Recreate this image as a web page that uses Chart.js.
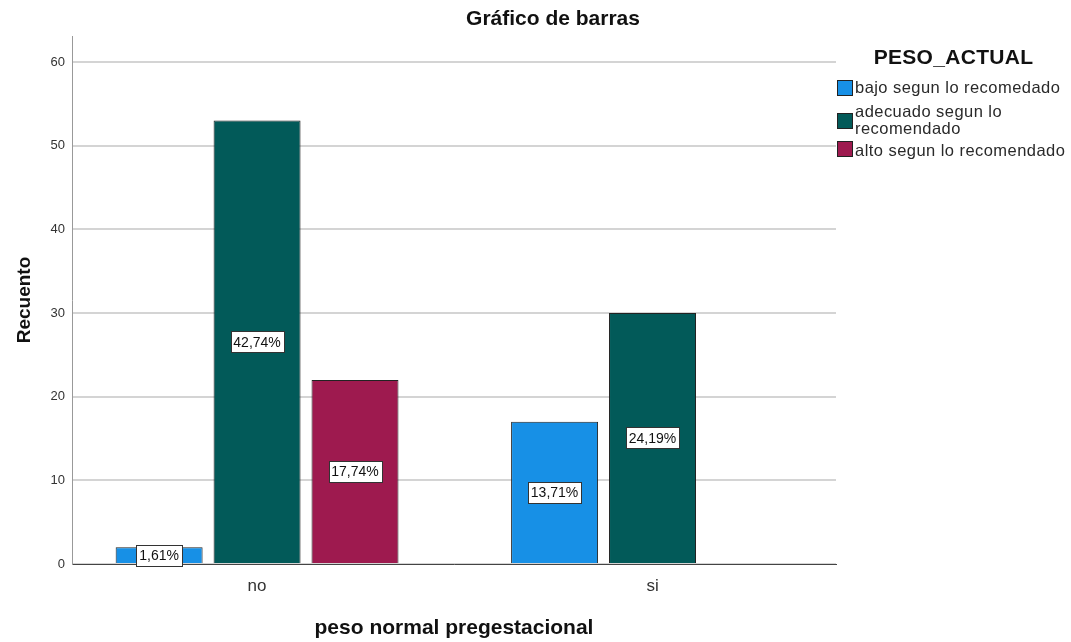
<!DOCTYPE html>
<html>
<head>
<meta charset="utf-8">
<script src="https://cdn.jsdelivr.net/npm/chart.js@4/dist/chart.umd.min.js"></script>
<style>
  html, body { margin: 0; padding: 0; background: #fff; }
  #wrap { position: relative; width: 1071px; height: 642px; font-family: "Liberation Sans", Arial, sans-serif; }
  #legend { position: absolute; left: 0; top: 0; width: 1071px; height: 642px; color: #222; pointer-events: none; }
  #legend .ttl { position: absolute; left: 836px; width: 235px; top: 44px; font-weight: bold; font-size: 21px; line-height: 26px; text-align: center; letter-spacing: 0.3px; color: #111; }
  #legend .txt { position: absolute; left: 855px; font-size: 16.5px; line-height: 17px; letter-spacing: 0.45px; white-space: nowrap; color: #2a2a2a; }
  #legend .sw { position: absolute; left: 837px; width: 16px; height: 16px; box-sizing: border-box; border: 1px solid #222; }
</style>
</head>
<body>
<div id="wrap">
  <canvas id="c" width="1071" height="642"></canvas>
  <div id="legend"></div>
</div>
<script>
// Categories of "peso normal pregestacional" and their positions on the x scale
const categories = ['no', 'si'];
const categoryPositions = [1, 2];

// Series: PESO_ACTUAL counts per category
const seriesNames = ['bajo segun lo recomedado', 'adecuado segun lo recomendado', 'alto segun lo recomendado'];
const bajo = [2, 17];
const adecuado = [53, 30];
const alto = [22, null];

const yTicks = [0, 10, 20, 30, 40, 50, 60];
const colors = ['#1790e6', '#025a59', '#9e1a4f'];

const allSeries = [bajo, adecuado, alto];
const total = allSeries.flat().reduce((s, v) => s + (v || 0), 0);

const FONT = '"Liberation Sans", Arial, sans-serif';

// Legend (right side): title, swatches and wrapped labels
const legendEl = document.getElementById('legend');
const legendLines = [['bajo segun lo recomedado'], ['adecuado segun lo', 'recomendado'], ['alto segun lo recomendado']];
const legendTextTop = [79, 103, 142];
const legendBoxTop = [80, 113, 141];
let html = '<div class="ttl">PESO_ACTUAL</div>';
legendLines.forEach((lines, i) => {
  html += '<span class="sw" style="background:' + colors[i] + ';top:' + legendBoxTop[i] + 'px"></span>';
  html += '<div class="txt" style="top:' + legendTextTop[i] + 'px">' + lines.join('<br>') + '</div>';
});
legendEl.innerHTML = html;

// Percentage boxes centred on each bar
const pctLabels = {
  id: 'pctLabels',
  afterDatasetsDraw(chart) {
    const ctx = chart.ctx;
    ctx.save();
    ctx.font = '14px ' + FONT;
    ctx.textAlign = 'center';
    ctx.textBaseline = 'middle';
    chart.data.datasets.forEach((ds, di) => {
      const meta = chart.getDatasetMeta(di);
      meta.data.forEach((bar, i) => {
        const v = ds.data[i].y;
        if (v == null) return;
        const txt = (v / total * 100).toFixed(2).replace('.', ',') + '%';
        const cy = (bar.y + bar.base) / 2;
        const w = Math.round(ctx.measureText(txt).width + 6);
        const h = 21;
        const x0 = Math.round(bar.x - w / 2) + 0.5;
        const y0 = Math.round(cy - h / 2) + 0.5;
        ctx.fillStyle = '#fff';
        ctx.fillRect(x0, y0, w, h);
        ctx.strokeStyle = '#333';
        ctx.lineWidth = 1;
        ctx.strokeRect(x0, y0, w, h);
        ctx.fillStyle = '#111';
        ctx.fillText(txt, bar.x, cy + 1);
      });
    });
    ctx.restore();
  }
};

// Chart title
const chartTitle = {
  id: 'chartTitle',
  afterDraw(chart) {
    const ctx = chart.ctx;
    ctx.save();
    ctx.font = 'bold 21px ' + FONT;
    ctx.fillStyle = '#111';
    ctx.textAlign = 'center';
    ctx.textBaseline = 'middle';
    ctx.fillText('Gráfico de barras', 553, 19);
    ctx.restore();
  }
};

const datasets = allSeries.map((arr, i) => ({
  label: seriesNames[i],
  data: arr.map((v, k) => ({ x: categoryPositions[k], y: v })),
  backgroundColor: colors[i],
  borderColor: '#222',
  borderWidth: 1,
  categoryPercentage: 0.743,
  barPercentage: 0.888
}));

new Chart(document.getElementById('c'), {
  type: 'bar',
  data: { datasets },
  options: {
    responsive: false,
    animation: false,
    layout: { padding: { top: 36, right: 235, left: 0, bottom: 0 } },
    plugins: { legend: { display: false }, tooltip: { enabled: false }, title: { display: false } },
    scales: {
      x: {
        type: 'linear',
        min: 0.532,
        max: 2.464,
        offset: false,
        grid: { display: false, drawTicks: false },
        border: { display: true, color: '#444', width: 1 },
        afterBuildTicks(scale) { scale.ticks = categoryPositions.map(v => ({ value: v })); },
        afterFit(scale) { scale.height = 78; },
        ticks: {
          autoSkip: false,
          padding: 12,
          color: '#333',
          font: { family: FONT, size: 17 },
          callback(v) { const k = categoryPositions.indexOf(v); return k >= 0 ? categories[k] : ''; }
        },
        title: {
          display: true,
          text: 'peso normal pregestacional',
          color: '#111',
          font: { family: FONT, size: 21, weight: 'bold' },
          padding: { top: 0, bottom: 1 }
        }
      },
      y: {
        min: 0,
        max: 63.1,
        grid: { color: '#d4d4d4', lineWidth: 2, drawTicks: false },
        border: { display: true, color: '#999', width: 1 },
        afterBuildTicks(scale) { scale.ticks = yTicks.map(v => ({ value: v })); },
        afterFit(scale) { scale.width = 72; },
        ticks: {
          padding: 7,
          color: '#333',
          font: { family: FONT, size: 13 }
        },
        title: {
          display: true,
          text: 'Recuento',
          color: '#111',
          font: { family: FONT, size: 19, weight: 'bold' },
          padding: { top: 13, bottom: 0 }
        }
      }
    }
  },
  plugins: [pctLabels, chartTitle]
});
</script>
</body>
</html>
